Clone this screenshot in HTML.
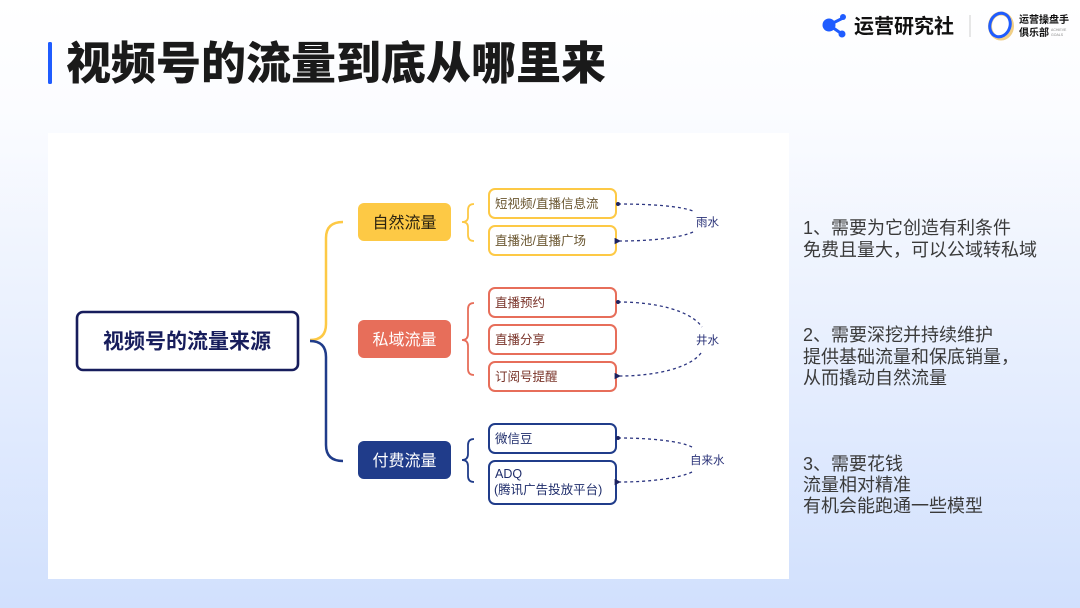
<!DOCTYPE html>
<html><head><meta charset="utf-8">
<style>
html,body{margin:0;padding:0;}
body{width:1080px;height:608px;overflow:hidden;position:relative;
background:linear-gradient(180deg,#ffffff 0px,#fbfcff 110px,#e9f0fe 330px,#d1e0fd 608px);
font-family:"Liberation Sans","Noto Sans CJK SC",sans-serif;}
svg{position:absolute;left:0;top:0;}
text{font-family:"Liberation Sans","Noto Sans CJK SC",sans-serif;}
</style></head><body>
<svg width="1080" height="608" viewBox="0 0 1080 608" xmlns="http://www.w3.org/2000/svg">
<defs>
<marker id="ar" viewBox="0 0 6 6" refX="1" refY="3" markerWidth="5" markerHeight="5" orient="auto-start-reverse"><path d="M6,0 L0,3 L6,6 Z" fill="#1c2260"/></marker>
</defs>
<!-- header -->
<rect x="48" y="42" width="4" height="42" rx="1.5" fill="#1f5cff"/>
<text x="66" y="79" font-size="45" font-weight="900" fill="#1a1a1a">视频号的流量到底从哪里来</text>
<!-- logo -->
<g fill="#1f5cff" stroke="#1f5cff">
<line x1="829" y1="25" x2="843" y2="18" stroke-width="3"/>
<line x1="829" y1="25" x2="842" y2="34" stroke-width="3"/>
<circle cx="829" cy="25" r="6.5" stroke="none"/>
<circle cx="843" cy="17" r="3" stroke="none"/>
<circle cx="842" cy="34" r="3.5" stroke="none"/>
</g>
<text x="854" y="33" font-size="20" font-weight="700" fill="#111">运营研究社</text>
<line x1="970" y1="15" x2="970" y2="37" stroke="#cfcfcf" stroke-width="1"/>
<ellipse cx="1001" cy="26" rx="11" ry="12.5" fill="none" stroke="#f1cf86" stroke-width="4"/>
<ellipse cx="1000" cy="25" rx="10" ry="12" fill="none" stroke="#1f5cff" stroke-width="3" transform="rotate(20 1000 25)"/>
<text x="1019" y="23" font-size="10" font-weight="700" fill="#111">运营操盘手</text>
<text x="1019" y="36" font-size="10" font-weight="700" fill="#111">俱乐部</text>
<text x="1051" y="31" font-size="3.5" fill="#888">ACHIEVE</text>
<text x="1051" y="36" font-size="3.5" fill="#888">GOALS</text>

<!-- panel -->
<rect x="48" y="133" width="741" height="446" fill="#ffffff"/>

<!-- root -->
<rect x="77" y="312" width="221" height="58" rx="6" fill="#fff" stroke="#171d5c" stroke-width="2.6"/>
<text x="187" y="348.5" font-size="21" font-weight="700" fill="#171d5c" text-anchor="middle">视频号的流量来源</text>

<!-- main brace -->
<path d="M310,340 Q326,340 326,324 L326,238 Q326,222 343,222" fill="none" stroke="#fdc945" stroke-width="2.5"/>
<path d="M310,341 Q326,341 326,357 L326,445 Q326,461 343,461" fill="none" stroke="#203c8a" stroke-width="2.5"/>

<!-- level1 -->
<rect x="358" y="203" width="93" height="38" rx="6" fill="#fdc945"/>
<text x="404.5" y="228" font-size="16" fill="#2a2210" text-anchor="middle">自然流量</text>
<rect x="358" y="320" width="93" height="38" rx="6" fill="#e76e5a"/>
<text x="404.5" y="345" font-size="16" fill="#ffffff" text-anchor="middle">私域流量</text>
<rect x="358" y="441" width="93" height="38" rx="6" fill="#203c8a"/>
<text x="404.5" y="466" font-size="16" fill="#ffffff" text-anchor="middle">付费流量</text>

<!-- small braces -->
<path d="M474,204 Q468,204 468,210 L468,217 Q468,222 462,222 Q468,222 468,227 L468,235 Q468,241 474,241" fill="none" stroke="#fdc945" stroke-width="1.8"/>
<path d="M474,303 Q468,303 468,309 L468,334 Q468,340 462,340 Q468,340 468,346 L468,369 Q468,375 474,375" fill="none" stroke="#e76e5a" stroke-width="1.8"/>
<path d="M474,439 Q468,439 468,445 L468,454 Q468,460 462,460 Q468,460 468,466 L468,476 Q468,482 474,482" fill="none" stroke="#203c8a" stroke-width="1.8"/>

<!-- leaves -->
<g stroke-width="2" fill="#fff">
<rect x="489" y="189" width="127" height="29" rx="6" stroke="#fdc945"/>
<rect x="489" y="226" width="127" height="29" rx="6" stroke="#fdc945"/>
<rect x="489" y="288" width="127" height="29" rx="6" stroke="#e76e5a"/>
<rect x="489" y="325" width="127" height="29" rx="6" stroke="#e76e5a"/>
<rect x="489" y="362" width="127" height="29" rx="6" stroke="#e76e5a"/>
<rect x="489" y="424" width="127" height="29" rx="6" stroke="#203c8a"/>
<rect x="489" y="461" width="127" height="43" rx="6" stroke="#203c8a"/>
</g>
<g font-size="12.5">
<text x="495" y="208" fill="#6a5630">短视频/直播信息流</text>
<text x="495" y="245" fill="#6a5630">直播池/直播广场</text>
<text x="495" y="307" fill="#7a342a">直播预约</text>
<text x="495" y="344" fill="#7a342a">直播分享</text>
<text x="495" y="381" fill="#7a342a">订阅号提醒</text>
<text x="495" y="443" fill="#1f2d6b">微信豆</text>
<text x="495" y="478" fill="#1f2d6b">ADQ</text>
<text x="494" y="494" fill="#1f2d6b">(腾讯广告投放平台)</text>
</g>

<!-- dashed connectors -->
<g fill="none" stroke="#2c3580" stroke-width="1.3" stroke-dasharray="3,3">
<path d="M618,204 C650,204 680,206 693,211"/>
<path d="M693,232 C680,238 650,241 620,241" marker-end="url(#ar)"/>
<path d="M618,302 C655,302 690,310 702,327"/>
<path d="M701,353 C690,368 655,376 620,376" marker-end="url(#ar)"/>
<path d="M618,438 C650,438 680,441 692,447"/>
<path d="M692,472 C680,478 650,482 620,482" marker-end="url(#ar)"/>
</g>
<g fill="#1c2260">
<circle cx="618" cy="204" r="2"/>
<circle cx="618" cy="302" r="2"/>
<circle cx="618" cy="438" r="2"/>
</g>
<g font-size="11.5" fill="#2a3278">
<text x="696" y="226">雨水</text>
<text x="696" y="344">井水</text>
<text x="690" y="464">自来水</text>
</g>

<!-- right notes -->
<g font-size="18" fill="#3a3a3a">
<text x="803" y="234">1、需要为它创造有利条件</text>
<text x="803" y="256">免费且量大，可以公域转私域</text>
<text x="803" y="341">2、需要深挖并持续维护</text>
<text x="803" y="363">提供基础流量和保底销量，</text>
<text x="803" y="384">从而撬动自然流量</text>
<text x="803" y="470">3、需要花钱</text>
<text x="803" y="491">流量相对精准</text>
<text x="803" y="512">有机会能跑通一些模型</text>
</g>
</svg>
</body></html>
